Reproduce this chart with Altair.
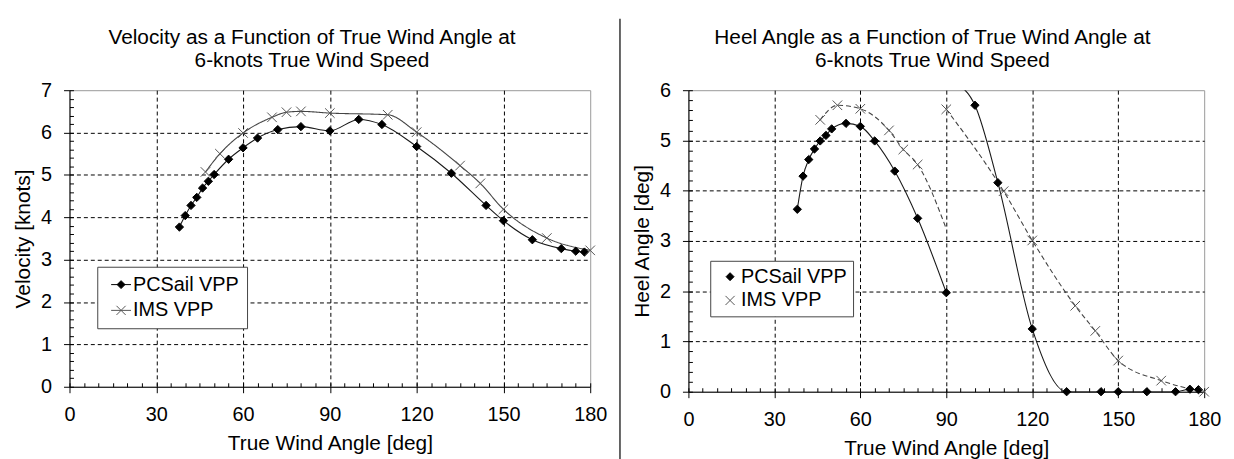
import altair as alt
import pandas as pd

SERIES = ["PCSail VPP", "IMS VPP"]

# ---------------- Velocity vs true wind angle (left panel) ----------------
pc_vel_angle = [38, 40, 42, 44, 46, 48, 50, 55, 60, 65, 72, 80, 90, 100, 108,
                120, 132, 144, 150, 160, 170, 175, 178]
pc_vel_value = [3.77, 4.04, 4.28, 4.47, 4.69, 4.85, 5.01, 5.37, 5.64, 5.87, 6.07,
                6.14, 6.04, 6.31, 6.19, 5.67, 5.04, 4.28, 3.92, 3.47, 3.26, 3.20, 3.18]
ims_vel_angle = [47, 52, 60, 70, 75, 80, 90, 110, 120, 135, 142, 150, 165, 180]
ims_vel_value = [5.07, 5.50, 5.99, 6.36, 6.48, 6.50, 6.46, 6.42, 6.01, 5.22,
                 4.80, 4.19, 3.51, 3.22]

# ---------------- Heel angle vs true wind angle (right panel) ----------------
pc_heel_angle = [38, 40, 42, 44, 46, 48, 50, 55, 60, 65, 72, 80, 90,
                 93, 100, 108, 120, 132, 144, 150, 160, 170, 175, 178]
pc_heel_value = [3.63, 4.29, 4.62, 4.83, 4.99, 5.10, 5.23, 5.34, 5.28, 4.99, 4.39, 3.45, 1.97,
                 6.15, 5.70, 4.16, 1.25, 0.0, 0.0, 0.0, 0.0, 0.0, 0.05, 0.04]
pc_heel_segment = [1] * 13 + [2] * 11
pc_heel_marker = [True] * 13 + [False] + [True] * 10

ims_heel_angle = [46, 52, 60, 70, 75, 80, 90,
                  90, 110, 120, 135, 142, 150, 165, 180]
ims_heel_value = [5.41, 5.70, 5.63, 5.20, 4.82, 4.52, 3.24,
                  5.62, 3.99, 3.01, 1.71, 1.21, 0.62, 0.22, 0.0]
ims_heel_segment = [1] * 7 + [2] * 8
ims_heel_marker = [True] * 6 + [False] + [True] * 8

x_major_ticks = [0, 30, 60, 90, 120, 150, 180]
x_minor_ticks = list(range(0, 181, 5))
vel_major_ticks = [0, 1, 2, 3, 4, 5, 6, 7]
heel_major_ticks = [0, 1, 2, 3, 4, 5, 6]


def frame(angle, value, series, segment=None, marker=None):
    n = len(angle)
    return pd.DataFrame({
        "angle": angle,
        "value": value,
        "series": [series] * n,
        "segment": segment if segment is not None else [1] * n,
        "marker": marker if marker is not None else [True] * n,
    })


vel_df = pd.concat([frame(pc_vel_angle, pc_vel_value, SERIES[0]),
                    frame(ims_vel_angle, ims_vel_value, SERIES[1])], ignore_index=True)
heel_df = pd.concat([frame(pc_heel_angle, pc_heel_value, SERIES[0], pc_heel_segment, pc_heel_marker),
                     frame(ims_heel_angle, ims_heel_value, SERIES[1], ims_heel_segment, ims_heel_marker)],
                    ignore_index=True)

FONT = "Liberation Sans"
DIAMOND = "M0,-1L1,0L0,1L-1,0Z"
XMARK = "M-1.15,-1.15L1.15,1.15M-1.15,1.15L1.15,-1.15"
LINE_DIAMOND = "M-2.5,0L2.5,0M0,-1L1,0L0,1L-1,0Z"
LINE_XMARK = "M-2.5,0L2.5,0M-1.15,-1.15L1.15,1.15M-1.15,1.15L1.15,-1.15"

FILL_RANGE = ["#000000", "transparent"]
STROKE_RANGE = ["#000000", "#555555"]


def panel(df, y_max, y_major, width, height, title, ytitle, legend, legend_shapes, ims_dash, dx):
    xscale = alt.Scale(domain=[0, 180], nice=False)
    yscale = alt.Scale(domain=[0, y_max], nice=False)
    y_minor = [round(i * 0.2, 1) for i in range(int(y_max * 5) + 1)]

    x_main = alt.Axis(orient="bottom", values=x_major_ticks, grid=True, gridColor="black", gridDash=[4, 3],
                      gridOpacity={"condition": {"test": "datum.value <= 0 || datum.value >= 180", "value": 0}, "value": 1},
                      tickSize=6, labelPadding=12, titlePadding=8, format="d", labelFlush=False)
    y_main = alt.Axis(orient="left", values=y_major, grid=True, gridColor="black", gridDash=[4, 3],
                      gridOpacity={"condition": {"test": f"datum.value <= 0 || datum.value >= {y_max}", "value": 0}, "value": 1},
                      tickSize=6, labelPadding=12, titlePadding=7, format="d", labelFlush=False)
    x_minor = alt.Axis(orient="bottom", values=x_minor_ticks, grid=False, labels=False, domain=False,
                       tickSize=4, offset=-4)
    y_minor_axis = alt.Axis(orient="left", values=y_minor, grid=False, labels=False, domain=False,
                            tickSize=4, offset=-4)

    base = alt.Chart(df)

    pc_line = base.transform_filter(alt.datum.series == SERIES[0]).mark_line(
        color="#1a1a1a", strokeWidth=1.1, interpolate="monotone", clip=True
    ).encode(
        x=alt.X("angle:Q", scale=xscale, axis=x_minor, title=None),
        y=alt.Y("value:Q", scale=yscale, axis=y_minor_axis, title=None),
        detail="segment:N",
    )
    ims_line = base.transform_filter(alt.datum.series == SERIES[1]).mark_line(
        color="#444444", strokeWidth=1.1, interpolate="monotone", clip=True,
        strokeDash=ims_dash
    ).encode(
        x=alt.X("angle:Q", scale=xscale, axis=None),
        y=alt.Y("value:Q", scale=yscale, axis=None),
        detail="segment:N",
    )
    pts = base.transform_filter(alt.datum.marker).mark_point(
        size=70, opacity=1, strokeWidth=1
    ).encode(
        x=alt.X("angle:Q", scale=xscale, axis=x_main, title="True Wind Angle [deg]"),
        y=alt.Y("value:Q", scale=yscale, axis=y_main, title=ytitle),
        fill=alt.Fill("series:N", scale=alt.Scale(domain=SERIES, range=FILL_RANGE), legend=None),
        stroke=alt.Stroke("series:N", scale=alt.Scale(domain=SERIES, range=STROKE_RANGE), legend=None),
        shape=alt.Shape("series:N", scale=alt.Scale(domain=SERIES, range=[DIAMOND, XMARK]), legend=None),
    )
    # legend-only layer (draws no marks: all rows filtered out)
    leg = base.transform_filter("false").mark_point(size=64, opacity=1, strokeWidth=1).encode(
        fill=alt.Fill("series:N", scale=alt.Scale(domain=SERIES, range=FILL_RANGE), legend=legend),
        stroke=alt.Stroke("series:N", scale=alt.Scale(domain=SERIES, range=STROKE_RANGE), legend=legend),
        shape=alt.Shape("series:N", scale=alt.Scale(domain=SERIES, range=legend_shapes), legend=legend),
    )
    return alt.layer(pc_line, ims_line, pts, leg).resolve_axis(x="independent", y="independent").resolve_scale(
        fill="independent", stroke="independent", shape="independent"
    ).properties(
        width=width, height=height,
        title=alt.TitleParams(text=title, font=FONT, fontSize=21, fontWeight="normal", color="black",
                              lineHeight=24, offset=9, dx=dx),
    )


left_legend = alt.Legend(
    title=None, orient="none", legendX=28, legendY=178, fillColor="white", strokeColor="#444444",
    padding=8, rowPadding=6, symbolSize=64, symbolOffset=6, labelOffset=2,
    labelFont=FONT, labelFontSize=20, labelColor="black", symbolStrokeWidth=1,
)
right_legend = alt.Legend(
    title=None, orient="none", legendX=22, legendY=172, fillColor="white", strokeColor="#444444",
    padding=6, rowPadding=4, symbolSize=64, symbolOffset=4, labelOffset=1,
    labelFont=FONT, labelFontSize=20, labelColor="black", symbolStrokeWidth=1,
)

left = panel(vel_df, 7, vel_major_ticks, 525, 299,
             ["Velocity as a Function of True Wind Angle at", "6-knots True Wind Speed"],
             "Velocity [knots]", left_legend, [LINE_DIAMOND, LINE_XMARK], [1, 0], -18)
right = panel(heel_df, 6, heel_major_ticks, 520, 304,
              ["Heel Angle as a Function of True Wind Angle at", "6-knots True Wind Speed"],
              "Heel Angle [deg]", right_legend, [DIAMOND, XMARK], [5, 3], -14)

# vertical divider between the two panels (its own, frameless view)
divider = alt.Chart(pd.DataFrame({"k": [0]})).mark_rule(color="black", strokeWidth=1.2, clip=False).encode(
    x=alt.value(30), y=alt.value(-72), y2=alt.value(372)
).properties(width=99, height=299, view=alt.ViewBackground(stroke="transparent"))

chart = alt.hconcat(left, divider, right, spacing=0, bounds="flush").properties(
    padding={"left": 4, "top": 7, "right": 4, "bottom": 0},
    background="white",
).configure_view(
    stroke="#999999", strokeWidth=1
).configure_axis(
    labelFont=FONT, titleFont=FONT, labelFontSize=20, titleFontSize=21,
    titleFontWeight="normal", labelColor="black", titleColor="black",
    tickColor="black", domainColor="black", tickWidth=1, domainWidth=1,
)

chart.save("out.html", embed_options={"renderer": "svg", "actions": False})
